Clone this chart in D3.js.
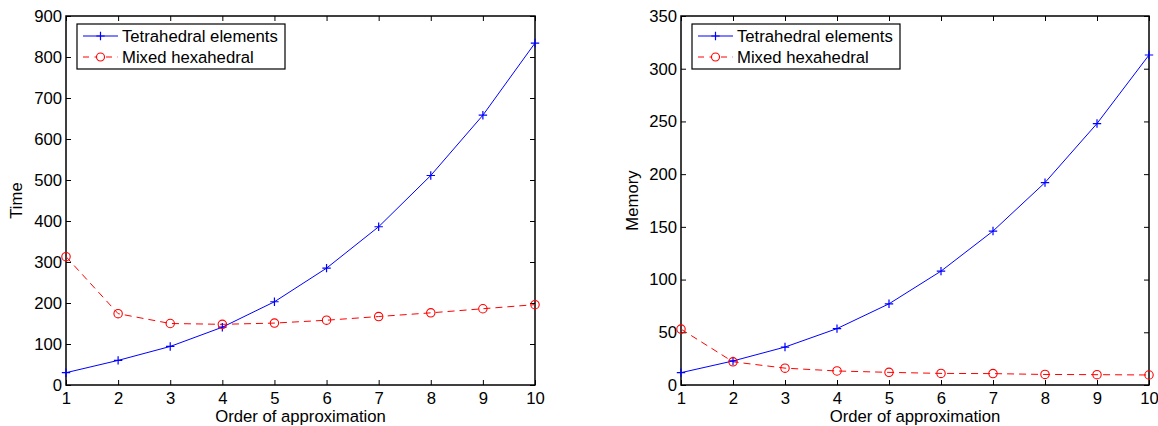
<!DOCTYPE html>
<html><head><meta charset="utf-8">
<script src="https://cdn.jsdelivr.net/npm/d3@7"></script>
<style>
html,body{margin:0;padding:0;background:#fff;}
svg{display:block;font-family:"Liberation Sans",Arial,Helvetica,sans-serif;}
</style></head>
<body><svg id="c" width="1158" height="426"></svg>
<script>
const orders = [1,2,3,4,5,6,7,8,9,10];
const timeTetra = [30,60,94,141,203,285,386,511,658,834];
const timeMixed = [313,174,150,148,151,158,167,176,186,196];
const memTetra = [11.7,22.8,36,53.5,77,108,146,192,248,313];
const memMixed = [53,22,16,13.3,12,11,10.8,10,9.8,9.5];
const seriesNames = ["Tetrahedral elements","Mixed hexahedral"];
const timeTicks = [0,100,200,300,400,500,600,700,800,900];
const memTicks = [0,50,100,150,200,250,300,350];

const svg = d3.select("#c");
const FS = 16.7;

function panel(left, right, top, bottom, yMax, yTicks, tetra, mixed, ylabel, ylabelX){
  const x = d3.scaleLinear().domain([1,10]).range([left,right]);
  const y = d3.scaleLinear().domain([0,yMax]).range([bottom,top]);
  const g = svg.append("g");
  g.append("rect").attr("x",left).attr("y",top).attr("width",right-left).attr("height",bottom-top)
    .attr("fill","none").attr("stroke","#000").attr("stroke-width",1.5);
  const tl = 5;
  const xb = d3.axisBottom(x).tickValues(orders).tickSize(-tl).tickPadding(7).tickFormat(d3.format("d"));
  const xt = d3.axisTop(x).tickValues(orders).tickSize(-tl).tickFormat("");
  const yl = d3.axisLeft(y).tickValues(yTicks).tickSize(-tl).tickPadding(4).tickFormat(d3.format("d"));
  const yr = d3.axisRight(y).tickValues(yTicks).tickSize(-tl).tickFormat("");
  [[xb,`translate(0,${bottom})`],[xt,`translate(0,${top})`],[yl,`translate(${left},0)`],[yr,`translate(${right},0)`]].forEach(([ax,tr])=>{
    const a = g.append("g").attr("transform",tr).call(ax);
    a.select(".domain").remove();
    a.selectAll("line").attr("stroke","#000").attr("stroke-width",1);
    a.selectAll("text").attr("fill","#000").style("font-size",FS+"px").style("font-family","'Liberation Sans',Arial,sans-serif");
  });
  const line = d3.line().x((d,i)=>x(orders[i])).y(d=>y(d));
  g.append("path").datum(tetra).attr("d",line).attr("fill","none").attr("stroke","#0000ff").attr("stroke-width",1);
  g.append("path").datum(mixed).attr("d",line).attr("fill","none").attr("stroke","#ff0000").attr("stroke-width",1).attr("stroke-dasharray","7,5");
  const s = 4.2;
  g.selectAll(".plus").data(tetra).enter().append("path")
    .attr("d",(d,i)=>{const cx=x(orders[i]),cy=y(d);return `M${cx-s},${cy}H${cx+s}M${cx},${cy-s}V${cy+s}`;})
    .attr("stroke","#0000ff").attr("stroke-width",1.2).attr("fill","none");
  g.selectAll(".circ").data(mixed).enter().append("circle")
    .attr("cx",(d,i)=>x(orders[i])).attr("cy",d=>y(d)).attr("r",4.2)
    .attr("stroke","#ff0000").attr("stroke-width",1.1).attr("fill","none");
  g.append("text").attr("x",(left+right)/2).attr("y",bottom+37).attr("text-anchor","middle")
    .style("font-size",FS+"px").text("Order of approximation");
  g.append("text").attr("transform",`translate(${ylabelX},${(top+bottom)/2}) rotate(-90)`).attr("text-anchor","middle")
    .style("font-size",FS+"px").text(ylabel);
  const lx = left+11, ly = top+8, lw = 208, lh = 45;
  g.append("rect").attr("x",lx).attr("y",ly).attr("width",lw).attr("height",lh).attr("fill","#fff").attr("stroke","#000").attr("stroke-width",1.2);
  const rows = [ly+12, ly+33];
  const sx0 = lx+6, sx1 = lx+41, sxm = (sx0+sx1)/2;
  g.append("line").attr("x1",sx0).attr("x2",sx1).attr("y1",rows[0]).attr("y2",rows[0]).attr("stroke","#0000ff");
  g.append("path").attr("d",`M${sxm-s},${rows[0]}H${sxm+s}M${sxm},${rows[0]-s}V${rows[0]+s}`).attr("stroke","#0000ff").attr("stroke-width",1.2);
  g.append("line").attr("x1",sx0).attr("x2",sx1).attr("y1",rows[1]).attr("y2",rows[1]).attr("stroke","#ff0000").attr("stroke-dasharray","6,5.5");
  g.append("circle").attr("cx",sxm).attr("cy",rows[1]).attr("r",4).attr("fill","#fff").attr("stroke","#ff0000").attr("stroke-width",1.1);
  seriesNames.forEach((n,i)=>{
    g.append("text").attr("x",lx+45).attr("y",rows[i]).attr("dy","0.36em").style("font-size",FS+"px").text(n);
  });
}

panel(66,535,16,385,900,timeTicks,timeTetra,timeMixed,"Time",22);
panel(681,1149,16,385,350,memTicks,memTetra,memMixed,"Memory",638);
</script></body></html>
